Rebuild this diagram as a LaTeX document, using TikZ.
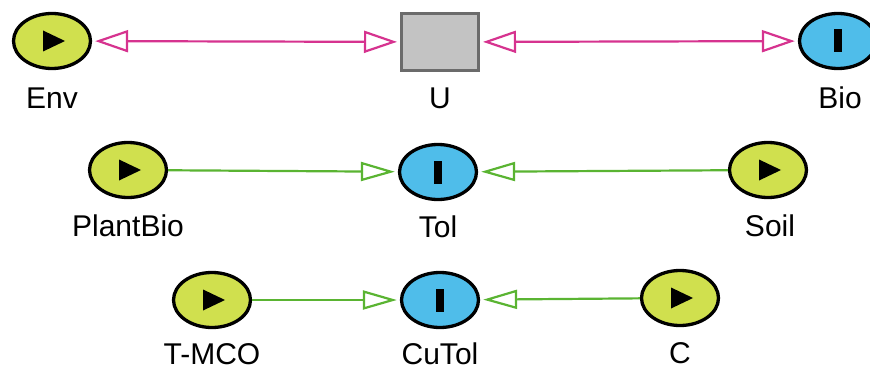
\documentclass[tikz,border=0pt]{standalone}
\usepackage{fontspec}
\setmainfont{Liberation Sans}
\usetikzlibrary{shapes.geometric,arrows.meta}

\definecolor{srcfill}{HTML}{D0E04E}
\definecolor{valfill}{HTML}{4FBDEA}
\definecolor{boxfill}{HTML}{C3C3C3}
\definecolor{boxline}{HTML}{6B6B6B}
\definecolor{linkpink}{HTML}{D6338F}
\definecolor{linkgreen}{HTML}{5AB432}

\tikzset{
  blob/.style={ellipse, draw=black, line width=3.3pt, minimum width=77pt,
    minimum height=55pt, inner sep=0pt},
  source/.style={blob, fill=srcfill,
    path picture={\fill[black] ([xshift=-9pt,yshift=10.5pt]path picture bounding box.center)
      -- ++(22pt,-10.5pt) -- ++(-22pt,-10.5pt) -- cycle;}},
  value/.style={blob, fill=valfill,
    path picture={\fill[black] ([xshift=-4pt,yshift=-11.5pt]path picture bounding box.center)
      rectangle ++(8pt,23pt);}},
  store/.style={rectangle, draw=boxline, fill=boxfill, line width=3pt,
    minimum width=77pt, minimum height=57pt, inner sep=0pt},
  caption/.style={anchor=base, font=\fontsize{30}{35}\selectfont, inner sep=0pt},
  pinklink/.style={draw=linkpink, line width=2.2pt, shorten <=3pt, shorten >=3pt,
    {Triangle[open,length=33pt,width=22pt]}-{Triangle[open,length=33pt,width=22pt]}},
  greenlink/.style={draw=linkgreen, line width=2.2pt, shorten >=3pt,
    -{Triangle[open,length=34pt,width=19pt]}}
}

\begin{document}
\begin{tikzpicture}[x=1pt,y=1pt]
  \clip (0,0) rectangle (870,-369);
  \useasboundingbox (0,0) rectangle (870,-369);

  % top row
  \node[source] (env) at (52,-41) {};
  \node[store] (u) at (440,-42) {};
  \node[value] (bio) at (838,-41) {};
  \node[caption] (envlbl) at (52,-108) {Env};
  \node[caption] (ulbl) at (440,-108) {U};
  \node[caption] (biolbl) at (840,-108) {Bio};

  % middle row
  \node[source] (plantbio) at (128,-170) {};
  \node[value] (tol) at (438,-172) {};
  \node[source] (soil) at (768,-170) {};
  \node[caption] (plantbiolbl) at (128,-236) {PlantBio};
  \node[caption] (tollbl) at (438,-237) {Tol};
  \node[caption] (soillbl) at (770,-236) {Soil};

  % bottom row
  \node[source] (tmco) at (212,-300) {};
  \node[value] (cutol) at (440,-300) {};
  \node[source] (c) at (680,-298) {};
  \node[caption] (tmcolbl) at (212,-364) {T-MCO};
  \node[caption] (cutollbl) at (440,-364) {CuTol};
  \node[caption] (clbl) at (680,-363) {C};

  % links
  \draw[pinklink] (env) -- (u);
  \draw[pinklink] (u) -- (bio);
  \draw[greenlink] (plantbio) -- (tol);
  \draw[greenlink] (soil) -- (tol);
  \draw[greenlink] (tmco) -- (cutol);
  \draw[greenlink] (c) -- (cutol);
\end{tikzpicture}
\end{document}
